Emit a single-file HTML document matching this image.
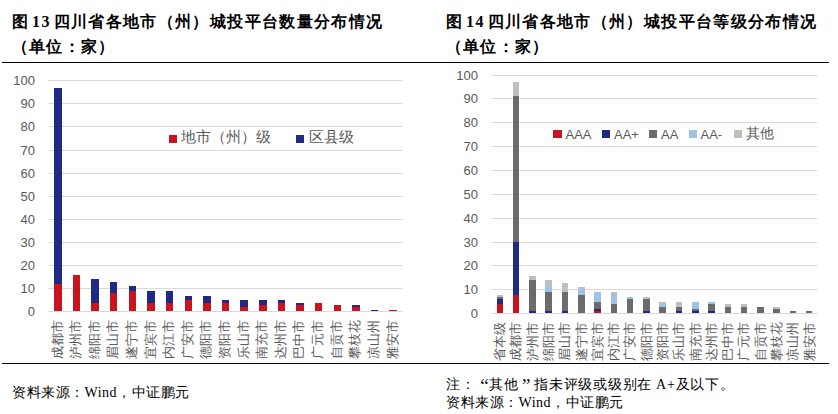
<!DOCTYPE html><html><head><meta charset="utf-8"><style>
html,body{margin:0;padding:0;background:#fff;width:838px;height:414px;overflow:hidden;text-spacing-trim:space-all}
.a{position:absolute;white-space:nowrap}
.t{font-family:"Liberation Serif",serif;font-weight:bold;font-size:16px;letter-spacing:1.36px;word-spacing:-2.6px;color:#000;line-height:20px}
.s{font-family:"Liberation Serif",serif;font-size:14px;letter-spacing:0.5px;color:#000;line-height:18px}
.ax{font-family:"Liberation Sans",sans-serif;font-size:13px;color:#595959;line-height:14px}
.lg{font-family:"Liberation Sans",sans-serif;font-size:14px;color:#595959;line-height:16px}
.cat{font-family:"Liberation Sans",sans-serif;font-size:12.5px;color:#595959;line-height:12.5px;transform-origin:0 0;transform:rotate(-90deg)}
.sq{position:absolute;width:8px;height:8px}
.q{display:inline-block;width:14px;font-size:19px;line-height:14px;vertical-align:top;position:relative;top:3px}
</style></head><body>
<div class="a t" style="left:12px;top:12px">图 13 四川省各地市（州）城投平台数量分布情况</div>
<div class="a t" style="left:11.5px;top:37px">（单位：家）</div>
<div class="a t" style="left:446px;top:12px">图 14 四川省各地市（州）城投平台等级分布情况</div>
<div class="a t" style="left:445.5px;top:37px">（单位：家）</div>
<div class="a" style="left:2px;top:62px;width:827px;height:1px;background:#000"></div>
<div class="a" style="left:2px;top:363px;width:827px;height:1px;background:#000"></div>
<svg class="a" style="left:0;top:0" width="838" height="414"><line x1="48.5" y1="311.5" x2="402.5" y2="311.5" stroke="#D9D9D9" stroke-width="1"/><line x1="48.5" y1="288.5" x2="402.5" y2="288.5" stroke="#D9D9D9" stroke-width="1"/><line x1="48.5" y1="265.5" x2="402.5" y2="265.5" stroke="#D9D9D9" stroke-width="1"/><line x1="48.5" y1="242.5" x2="402.5" y2="242.5" stroke="#D9D9D9" stroke-width="1"/><line x1="48.5" y1="219.5" x2="402.5" y2="219.5" stroke="#D9D9D9" stroke-width="1"/><line x1="48.5" y1="196.5" x2="402.5" y2="196.5" stroke="#D9D9D9" stroke-width="1"/><line x1="48.5" y1="173.5" x2="402.5" y2="173.5" stroke="#D9D9D9" stroke-width="1"/><line x1="48.5" y1="150.5" x2="402.5" y2="150.5" stroke="#D9D9D9" stroke-width="1"/><line x1="48.5" y1="126.5" x2="402.5" y2="126.5" stroke="#D9D9D9" stroke-width="1"/><line x1="48.5" y1="103.5" x2="402.5" y2="103.5" stroke="#D9D9D9" stroke-width="1"/><line x1="48.5" y1="80.5" x2="402.5" y2="80.5" stroke="#D9D9D9" stroke-width="1"/><line x1="491.3" y1="313.50" x2="817.5" y2="313.50" stroke="#D9D9D9" stroke-width="1"/><line x1="491.3" y1="289.50" x2="817.5" y2="289.50" stroke="#D9D9D9" stroke-width="1"/><line x1="491.3" y1="265.50" x2="817.5" y2="265.50" stroke="#D9D9D9" stroke-width="1"/><line x1="491.3" y1="242.50" x2="817.5" y2="242.50" stroke="#D9D9D9" stroke-width="1"/><line x1="491.3" y1="218.50" x2="817.5" y2="218.50" stroke="#D9D9D9" stroke-width="1"/><line x1="491.3" y1="194.50" x2="817.5" y2="194.50" stroke="#D9D9D9" stroke-width="1"/><line x1="491.3" y1="170.50" x2="817.5" y2="170.50" stroke="#D9D9D9" stroke-width="1"/><line x1="491.3" y1="146.50" x2="817.5" y2="146.50" stroke="#D9D9D9" stroke-width="1"/><line x1="491.3" y1="122.50" x2="817.5" y2="122.50" stroke="#D9D9D9" stroke-width="1"/><line x1="491.3" y1="98.50" x2="817.5" y2="98.50" stroke="#D9D9D9" stroke-width="1"/><line x1="491.3" y1="75.50" x2="817.5" y2="75.50" stroke="#D9D9D9" stroke-width="1"/><rect x="54.00" y="284.00" width="8.00" height="27.00" fill="#C9141F"/><rect x="54.00" y="88.00" width="8.00" height="196.00" fill="#1F2A84"/><rect x="73.00" y="275.00" width="7.00" height="36.00" fill="#C9141F"/><rect x="91.00" y="303.00" width="8.00" height="8.00" fill="#C9141F"/><rect x="91.00" y="279.00" width="8.00" height="24.00" fill="#1F2A84"/><rect x="110.00" y="293.00" width="7.00" height="18.00" fill="#C9141F"/><rect x="110.00" y="282.00" width="7.00" height="11.00" fill="#1F2A84"/><rect x="129.00" y="291.00" width="7.00" height="20.00" fill="#C9141F"/><rect x="129.00" y="286.00" width="7.00" height="5.00" fill="#1F2A84"/><rect x="147.00" y="303.00" width="8.00" height="8.00" fill="#C9141F"/><rect x="147.00" y="291.00" width="8.00" height="12.00" fill="#1F2A84"/><rect x="166.00" y="303.00" width="7.00" height="8.00" fill="#C9141F"/><rect x="166.00" y="291.00" width="7.00" height="12.00" fill="#1F2A84"/><rect x="185.00" y="300.00" width="7.00" height="11.00" fill="#C9141F"/><rect x="185.00" y="296.00" width="7.00" height="4.00" fill="#1F2A84"/><rect x="203.00" y="303.00" width="8.00" height="8.00" fill="#C9141F"/><rect x="203.00" y="296.00" width="8.00" height="7.00" fill="#1F2A84"/><rect x="222.00" y="303.00" width="7.00" height="8.00" fill="#C9141F"/><rect x="222.00" y="300.00" width="7.00" height="3.00" fill="#1F2A84"/><rect x="240.00" y="307.00" width="8.00" height="4.00" fill="#C9141F"/><rect x="240.00" y="300.00" width="8.00" height="7.00" fill="#1F2A84"/><rect x="259.00" y="305.00" width="8.00" height="6.00" fill="#C9141F"/><rect x="259.00" y="300.00" width="8.00" height="5.00" fill="#1F2A84"/><rect x="278.00" y="303.00" width="7.00" height="8.00" fill="#C9141F"/><rect x="278.00" y="300.00" width="7.00" height="3.00" fill="#1F2A84"/><rect x="296.00" y="305.00" width="8.00" height="6.00" fill="#C9141F"/><rect x="296.00" y="303.00" width="8.00" height="2.00" fill="#1F2A84"/><rect x="315.00" y="303.00" width="7.00" height="8.00" fill="#C9141F"/><rect x="334.00" y="305.00" width="7.00" height="6.00" fill="#C9141F"/><rect x="352.00" y="307.00" width="8.00" height="4.00" fill="#C9141F"/><rect x="352.00" y="305.00" width="8.00" height="2.00" fill="#1F2A84"/><rect x="371.00" y="310.00" width="7.00" height="1.00" fill="#1F2A84"/><rect x="389.00" y="310.00" width="8.00" height="1.00" fill="#C9141F"/><rect x="497.00" y="304.00" width="6.00" height="9.00" fill="#C9141F"/><rect x="497.00" y="299.00" width="6.00" height="5.00" fill="#1F2A84"/><rect x="497.00" y="297.00" width="6.00" height="2.00" fill="#6B6B6B"/><rect x="497.00" y="295.00" width="6.00" height="2.00" fill="#BFBFBF"/><rect x="513.00" y="295.00" width="6.00" height="18.00" fill="#C9141F"/><rect x="513.00" y="242.00" width="6.00" height="53.00" fill="#1F2A84"/><rect x="513.00" y="96.00" width="6.00" height="146.00" fill="#6B6B6B"/><rect x="513.00" y="82.00" width="6.00" height="14.00" fill="#BFBFBF"/><rect x="529.00" y="311.00" width="7.00" height="2.00" fill="#1F2A84"/><rect x="529.00" y="280.00" width="7.00" height="31.00" fill="#6B6B6B"/><rect x="529.00" y="276.00" width="7.00" height="4.00" fill="#BFBFBF"/><rect x="545.00" y="311.00" width="7.00" height="2.00" fill="#1F2A84"/><rect x="545.00" y="292.00" width="7.00" height="19.00" fill="#6B6B6B"/><rect x="545.00" y="287.00" width="7.00" height="5.00" fill="#9DC3E6"/><rect x="545.00" y="280.00" width="7.00" height="7.00" fill="#BFBFBF"/><rect x="562.00" y="311.00" width="6.00" height="2.00" fill="#1F2A84"/><rect x="562.00" y="292.00" width="6.00" height="19.00" fill="#6B6B6B"/><rect x="562.00" y="283.00" width="6.00" height="9.00" fill="#BFBFBF"/><rect x="578.00" y="295.00" width="7.00" height="18.00" fill="#6B6B6B"/><rect x="578.00" y="290.00" width="7.00" height="5.00" fill="#9DC3E6"/><rect x="578.00" y="287.00" width="7.00" height="3.00" fill="#BFBFBF"/><rect x="594.00" y="311.00" width="7.00" height="2.00" fill="#C9141F"/><rect x="594.00" y="309.00" width="7.00" height="2.00" fill="#1F2A84"/><rect x="594.00" y="302.00" width="7.00" height="7.00" fill="#6B6B6B"/><rect x="594.00" y="292.00" width="7.00" height="10.00" fill="#9DC3E6"/><rect x="611.00" y="304.00" width="6.00" height="9.00" fill="#6B6B6B"/><rect x="611.00" y="295.00" width="6.00" height="9.00" fill="#9DC3E6"/><rect x="611.00" y="292.00" width="6.00" height="3.00" fill="#BFBFBF"/><rect x="627.00" y="299.00" width="6.00" height="14.00" fill="#6B6B6B"/><rect x="627.00" y="297.00" width="6.00" height="2.00" fill="#9DC3E6"/><rect x="643.00" y="311.00" width="7.00" height="2.00" fill="#1F2A84"/><rect x="643.00" y="299.00" width="7.00" height="12.00" fill="#6B6B6B"/><rect x="643.00" y="297.00" width="7.00" height="2.00" fill="#BFBFBF"/><rect x="659.00" y="307.00" width="7.00" height="6.00" fill="#6B6B6B"/><rect x="659.00" y="304.00" width="7.00" height="3.00" fill="#9DC3E6"/><rect x="659.00" y="302.00" width="7.00" height="2.00" fill="#BFBFBF"/><rect x="676.00" y="311.00" width="6.00" height="2.00" fill="#1F2A84"/><rect x="676.00" y="307.00" width="6.00" height="4.00" fill="#6B6B6B"/><rect x="676.00" y="302.00" width="6.00" height="5.00" fill="#BFBFBF"/><rect x="692.00" y="311.00" width="7.00" height="2.00" fill="#1F2A84"/><rect x="692.00" y="309.00" width="7.00" height="2.00" fill="#6B6B6B"/><rect x="692.00" y="302.00" width="7.00" height="7.00" fill="#9DC3E6"/><rect x="708.00" y="311.00" width="7.00" height="2.00" fill="#1F2A84"/><rect x="708.00" y="304.00" width="7.00" height="7.00" fill="#6B6B6B"/><rect x="708.00" y="302.00" width="7.00" height="2.00" fill="#9DC3E6"/><rect x="725.00" y="307.00" width="6.00" height="6.00" fill="#6B6B6B"/><rect x="725.00" y="304.00" width="6.00" height="3.00" fill="#BFBFBF"/><rect x="741.00" y="307.00" width="6.00" height="6.00" fill="#6B6B6B"/><rect x="741.00" y="304.00" width="6.00" height="3.00" fill="#BFBFBF"/><rect x="757.00" y="307.00" width="7.00" height="6.00" fill="#6B6B6B"/><rect x="773.00" y="309.00" width="7.00" height="4.00" fill="#6B6B6B"/><rect x="773.00" y="307.00" width="7.00" height="2.00" fill="#BFBFBF"/><rect x="790.00" y="311.00" width="6.00" height="2.00" fill="#6B6B6B"/><rect x="806.00" y="311.00" width="6.00" height="2.00" fill="#6B6B6B"/></svg>
<div class="a ax" style="right:803px;top:304.5px;text-align:right">0</div>
<div class="a ax" style="right:803px;top:281.5px;text-align:right">10</div>
<div class="a ax" style="right:803px;top:258.5px;text-align:right">20</div>
<div class="a ax" style="right:803px;top:235.5px;text-align:right">30</div>
<div class="a ax" style="right:803px;top:212.5px;text-align:right">40</div>
<div class="a ax" style="right:803px;top:189.5px;text-align:right">50</div>
<div class="a ax" style="right:803px;top:166.5px;text-align:right">60</div>
<div class="a ax" style="right:803px;top:143.5px;text-align:right">70</div>
<div class="a ax" style="right:803px;top:119.5px;text-align:right">80</div>
<div class="a ax" style="right:803px;top:96.5px;text-align:right">90</div>
<div class="a ax" style="right:803px;top:73.5px;text-align:right">100</div>
<div class="a ax" style="right:360px;top:306.5px;text-align:right">0</div>
<div class="a ax" style="right:360px;top:282.5px;text-align:right">10</div>
<div class="a ax" style="right:360px;top:258.5px;text-align:right">20</div>
<div class="a ax" style="right:360px;top:235.5px;text-align:right">30</div>
<div class="a ax" style="right:360px;top:211.5px;text-align:right">40</div>
<div class="a ax" style="right:360px;top:187.5px;text-align:right">50</div>
<div class="a ax" style="right:360px;top:163.5px;text-align:right">60</div>
<div class="a ax" style="right:360px;top:139.5px;text-align:right">70</div>
<div class="a ax" style="right:360px;top:115.5px;text-align:right">80</div>
<div class="a ax" style="right:360px;top:91.5px;text-align:right">90</div>
<div class="a ax" style="right:360px;top:68.5px;text-align:right">100</div>
<div class="a cat" style="left:51.5px;top:359.4px">成都市</div>
<div class="a cat" style="left:70.1px;top:359.4px">泸州市</div>
<div class="a cat" style="left:88.7px;top:359.4px">绵阳市</div>
<div class="a cat" style="left:107.3px;top:359.4px">眉山市</div>
<div class="a cat" style="left:125.9px;top:359.4px">遂宁市</div>
<div class="a cat" style="left:144.6px;top:359.4px">宜宾市</div>
<div class="a cat" style="left:163.2px;top:359.4px">内江市</div>
<div class="a cat" style="left:181.8px;top:359.4px">广安市</div>
<div class="a cat" style="left:200.4px;top:359.4px">德阳市</div>
<div class="a cat" style="left:219.0px;top:359.4px">资阳市</div>
<div class="a cat" style="left:237.6px;top:359.4px">乐山市</div>
<div class="a cat" style="left:256.2px;top:359.4px">南充市</div>
<div class="a cat" style="left:274.8px;top:359.4px">达州市</div>
<div class="a cat" style="left:293.4px;top:359.4px">巴中市</div>
<div class="a cat" style="left:312.0px;top:359.4px">广元市</div>
<div class="a cat" style="left:330.6px;top:359.4px">自贡市</div>
<div class="a cat" style="left:349.3px;top:359.4px">攀枝花</div>
<div class="a cat" style="left:367.9px;top:359.4px">凉山州</div>
<div class="a cat" style="left:386.5px;top:359.4px">雅安市</div>
<div class="a cat" style="left:494.0px;top:361px">省本级</div>
<div class="a cat" style="left:510.3px;top:361px">成都市</div>
<div class="a cat" style="left:526.6px;top:361px">泸州市</div>
<div class="a cat" style="left:542.9px;top:361px">绵阳市</div>
<div class="a cat" style="left:559.2px;top:361px">眉山市</div>
<div class="a cat" style="left:575.5px;top:361px">遂宁市</div>
<div class="a cat" style="left:591.7px;top:361px">宜宾市</div>
<div class="a cat" style="left:608.0px;top:361px">内江市</div>
<div class="a cat" style="left:624.3px;top:361px">广安市</div>
<div class="a cat" style="left:640.6px;top:361px">德阳市</div>
<div class="a cat" style="left:656.9px;top:361px">资阳市</div>
<div class="a cat" style="left:673.2px;top:361px">乐山市</div>
<div class="a cat" style="left:689.5px;top:361px">南充市</div>
<div class="a cat" style="left:705.8px;top:361px">达州市</div>
<div class="a cat" style="left:722.1px;top:361px">巴中市</div>
<div class="a cat" style="left:738.4px;top:361px">广元市</div>
<div class="a cat" style="left:754.6px;top:361px">自贡市</div>
<div class="a cat" style="left:770.9px;top:361px">攀枝花</div>
<div class="a cat" style="left:787.2px;top:361px">凉山州</div>
<div class="a cat" style="left:803.5px;top:361px">雅安市</div>
<div class="sq" style="left:169px;top:135px;background:#C9141F"></div>
<div class="a lg" style="left:180.5px;top:129px;font-size:15px;letter-spacing:0px">地市（州）级</div>
<div class="sq" style="left:296px;top:135px;background:#1F2A84"></div>
<div class="a lg" style="left:309px;top:129px;font-size:15px">区县级</div>
<div class="sq" style="left:553.3px;top:130px;width:8.3px;height:8px;background:#C9141F"></div>
<div class="a lg" style="left:565.5px;top:126.5px;font-size:13px">AAA</div>
<div class="sq" style="left:602px;top:130px;width:8.3px;height:8px;background:#1F2A84"></div>
<div class="a lg" style="left:614px;top:126.5px;font-size:13px">AA+</div>
<div class="sq" style="left:649px;top:130px;width:8.3px;height:8px;background:#6B6B6B"></div>
<div class="a lg" style="left:661px;top:126.5px;font-size:13px">AA</div>
<div class="sq" style="left:689px;top:130px;width:8.3px;height:8px;background:#9DC3E6"></div>
<div class="a lg" style="left:700.5px;top:126.5px;font-size:13px">AA-</div>
<div class="sq" style="left:734px;top:130px;width:8.3px;height:8px;background:#BFBFBF"></div>
<div class="a lg" style="left:746px;top:125px;font-size:14px">其他</div>
<div class="a s" style="left:12px;top:384px">资料来源：Wind，中证鹏元</div>
<div class="a s" style="left:446px;top:376px;letter-spacing:0.7px">注：<span class="q" style="text-align:right">“</span>其他<span class="q" style="text-align:center;width:15.5px">”</span>指未评级或级别在 A+及以下。</div>
<div class="a s" style="left:446px;top:394px">资料来源：Wind，中证鹏元</div>
</body></html>
